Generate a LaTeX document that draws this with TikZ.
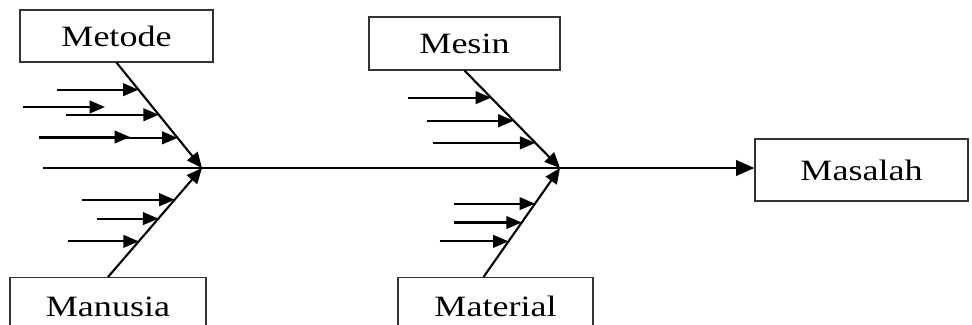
\documentclass[tikz,border=0pt]{standalone}
\usepackage{fontspec}
\newfontfamily\labelfont[FakeStretch=1.22]{Liberation Serif}
\usetikzlibrary{calc,arrows.meta}

\tikzset{
  causebox/.style={draw=black!80,line width=0.8pt,font=\labelfont\fontsize{21}{24}\selectfont,inner sep=0pt},
  bone/.style={line width=1.5pt,-{Triangle[length=11pt,width=9.5pt]}},
  twig/.style={line width=1.5pt,-{Triangle[length=11pt,width=9pt]}}
}

\begin{document}
\begin{tikzpicture}[x=0.025cm,y=-0.025cm]
  \useasboundingbox (0,0) rectangle (972,324);
  \clip (0,0) rectangle (972,324);
  % boxes
  \node[causebox,minimum width=4.825cm,minimum height=1.3cm] (met) at (116.5,36) {Metode};
  \node[causebox,minimum width=4.775cm,minimum height=1.325cm] (mes) at (464.5,43.5) {Mesin};
  \node[causebox,minimum width=5.325cm,minimum height=1.55cm] (mas) at (861.5,170) {Masalah};
  \node[causebox,anchor=north,minimum width=4.9cm,text height=0.975cm,text depth=0.6cm] (man) at (108,277) {Manusia};
  \node[causebox,anchor=north,minimum width=4.875cm,text height=0.975cm,text depth=0.6cm] (mat) at (495.5,277) {Material};
  \coordinate (tail) at (43,168);
  \coordinate (j1) at (202,168);
  \coordinate (j2) at (560,168);
  % spine
  \draw[line width=1.5pt,-{Triangle[length=13pt,width=11pt]}] (tail) -- (tail -| mas.west);
  % bones
  \draw[bone] (met.south) -- (j1);
  \draw[bone] (man.north) -- (j1);
  \draw[bone] (mes.south) -- (j2);
  \draw[bone] ($(mat.north)+(-12,0)$) -- (j2);
  % twigs
  \foreach \t/\len in {0.257/81.5,0.495/93,0.714/138.5}
    \draw[twig] ($(met.south)!\t!(j1)+(-\len,0)$) -- ($(met.south)!\t!(j1)$);
  \draw[twig] (23,107) -- (105,107);
  \draw[twig] (39,137) -- (130,137);
  \foreach \t/\len in {0.709/92.6,0.536/61,0.327/71}
    \draw[twig] ($(man.north)!\t!(j1)+(-\len,0)$) -- ($(man.north)!\t!(j1)$);
  \foreach \t/\len in {0.278/83,0.515/87,0.742/102}
    \draw[twig] ($(mes.south)!\t!(j2)+(-\len,0)$) -- ($(mes.south)!\t!(j2)$);
  \foreach \t/\len in {0.673/81,0.5/67.5,0.327/69}
    \draw[twig] ($($(mat.north)+(-12,0)$)!\t!(j2)+(-\len,0)$) -- ($($(mat.north)+(-12,0)$)!\t!(j2)$);
\end{tikzpicture}
\end{document}
